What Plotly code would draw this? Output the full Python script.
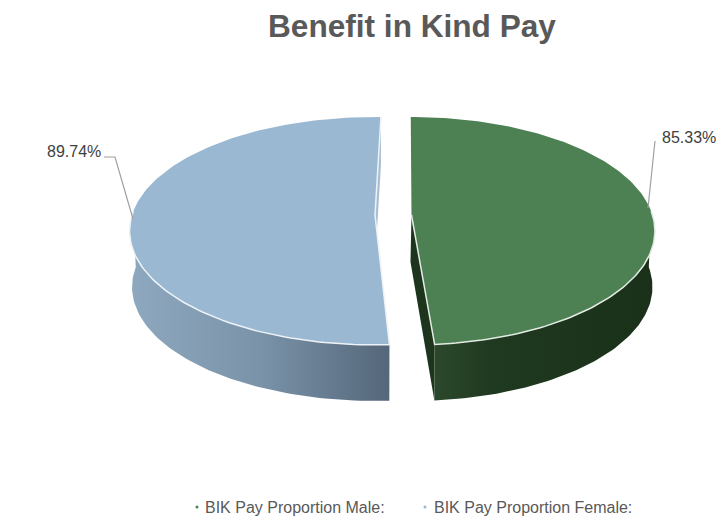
import numpy as np
import plotly.graph_objects as go

# Data
categories = ["BIK Pay Proportion Male:", "BIK Pay Proportion Female:"]
values = [85.33, 89.74]
title = "Benefit in Kind Pay"

# Styles / layout
TOP = ["#4d8053", "#9ab8d1"]
EDGE = ["#e4ebe4", "#edf2f7"]
WALL = [
    [[0, "#2c482c"], [0.25, "#1f3a20"], [1, "#1a3019"]],
    [[0, "#8ea8bf"], [0.5, "#7a93a9"], [1, "#55677a"]],
]
CENTER = [(411.5, 215.0), (375.0, 215.0)]
ROT = [-0.2, 1.6]
R = [241.0, 243.0]
B = 111.8
K = 0.14
DEPTH = 56.0
LOW_SCALE = 0.99
W, H = 717, 519


def rim(i, th, lower=False):
    t = np.radians(th)
    s = 1 / (1 + K * np.cos(t))
    cx, cy = CENTER[i]
    r = R[i] * (LOW_SCALE if lower else 1)
    x = cx + r * np.sin(t) * s
    y = cy - B * np.cos(t) * s + (DEPTH if lower else 0)
    return x, y


# slice angles derived from values, clockwise from 12 o'clock
total = sum(values)
spans = [v / total * 360 for v in values]
a0 = [ROT[0], spans[0] + ROT[1]]
a1 = [spans[0] + ROT[0], 360 + ROT[1]]

fig = go.Figure()


def poly(x, y, **kw):
    fig.add_trace(go.Scatter(x=x, y=y, mode="lines", fill="toself", showlegend=False, hoverinfo="skip", **kw))


# back wall sliver of the blue slice
tx, ty = rim(1, a1[1])
ax, ay = CENTER[1]
poly([tx, tx, ax, ax, tx], [ty, ty + 48, ay + 48, ay, ty], line=dict(width=0), fillcolor="#a9bed2")

# front radial wall of the green slice
ox, oy = rim(0, a1[0])
olx, oly = rim(0, a1[0], True)
ax, ay = CENTER[0]
poly([ax, ax - 1, olx, ox, ax], [ay, ay + 47, oly, oy, ay], line=dict(width=0), fillcolor="#1c351c")

# outer walls
for i, (p, q) in enumerate([(a1[0], 88), (a0[1], 272)]):
    th = np.linspace(min(p, q), max(p, q), 80)
    ux, uy = rim(i, th)
    lx, ly = rim(i, th, True)
    poly(np.r_[ux, lx[::-1], ux[0]], np.r_[uy, ly[::-1], uy[0]], line=dict(width=0),
         fillcolor="#55677a" if i else "#1a3019",
         fillgradient=dict(type="horizontal", colorscale=WALL[i]))

# top faces
for i in range(2):
    th = np.linspace(a0[i], a1[i], 160)
    x, y = rim(i, th)
    cx, cy = CENTER[i]
    poly(np.r_[cx, x, cx], np.r_[cy, y, cy], line=dict(width=0), fillcolor=TOP[i], name=categories[i])

# light edge along the near rim and the inner radial edges
green_th = np.linspace(88, a1[0], 80)
gx, gy = rim(0, green_th)
blue_th = np.linspace(a0[1], 272, 80)
bx, by = rim(1, blue_th)
edge_paths = [
    (np.r_[gx, CENTER[0][0]], np.r_[gy, CENTER[0][1]]),
    (np.r_[rim(1, a1[1])[0], CENTER[1][0], bx], np.r_[rim(1, a1[1])[1], CENTER[1][1], by]),
]
for i, (ex, ey) in enumerate(edge_paths):
    fig.add_trace(go.Scatter(x=ex, y=ey, mode="lines", line=dict(color=EDGE[i], width=1.5),
                             showlegend=False, hoverinfo="skip"))

# leader lines & labels
LEAD = [[(655, 141), (648, 208)], [(104, 157), (115, 157), (133, 219)]]
LABEL_POS = [(688.5, 137), (73.5, 151)]
for i in range(2):
    fig.add_trace(go.Scatter(x=[p[0] for p in LEAD[i]], y=[p[1] for p in LEAD[i]], mode="lines",
                             line=dict(color="#a0a0a0", width=1.2), showlegend=False, hoverinfo="skip"))
    fig.add_annotation(x=LABEL_POS[i][0], y=LABEL_POS[i][1], text=f"{values[i]:.2f}%", showarrow=False,
                       font=dict(family="Liberation Sans", size=16, color="#404040"))

fig.add_annotation(x=412, y=26, text=f"<b>{title}</b>", showarrow=False,
                   font=dict(family="Liberation Sans", size=31.6, color="#595959"))

# legend row
LEG_DOT = [197, 425]
LEG_TXT = [203, 432]
fig.add_trace(go.Scatter(x=LEG_DOT, y=[507, 507], mode="markers",
                         marker=dict(size=3, color=["#4f8054", "#9ab8d3"]), showlegend=False, hoverinfo="skip"))
for i in range(2):
    fig.add_annotation(x=LEG_TXT[i], y=507, text=categories[i], xanchor="left", showarrow=False,
                       font=dict(family="Liberation Sans", size=16, color="#595959"))

fig.update_layout(
    width=W, height=H, margin=dict(l=0, r=0, t=0, b=0), showlegend=False,
    paper_bgcolor="white", plot_bgcolor="white",
    xaxis=dict(range=[0, W], visible=False, fixedrange=True),
    yaxis=dict(range=[H, 0], visible=False, fixedrange=True),
)
fig.write_html("out.html", config=dict(displayModeBar=False),
               post_script="document.body.style.margin='0';document.documentElement.style.overflow='hidden';")
